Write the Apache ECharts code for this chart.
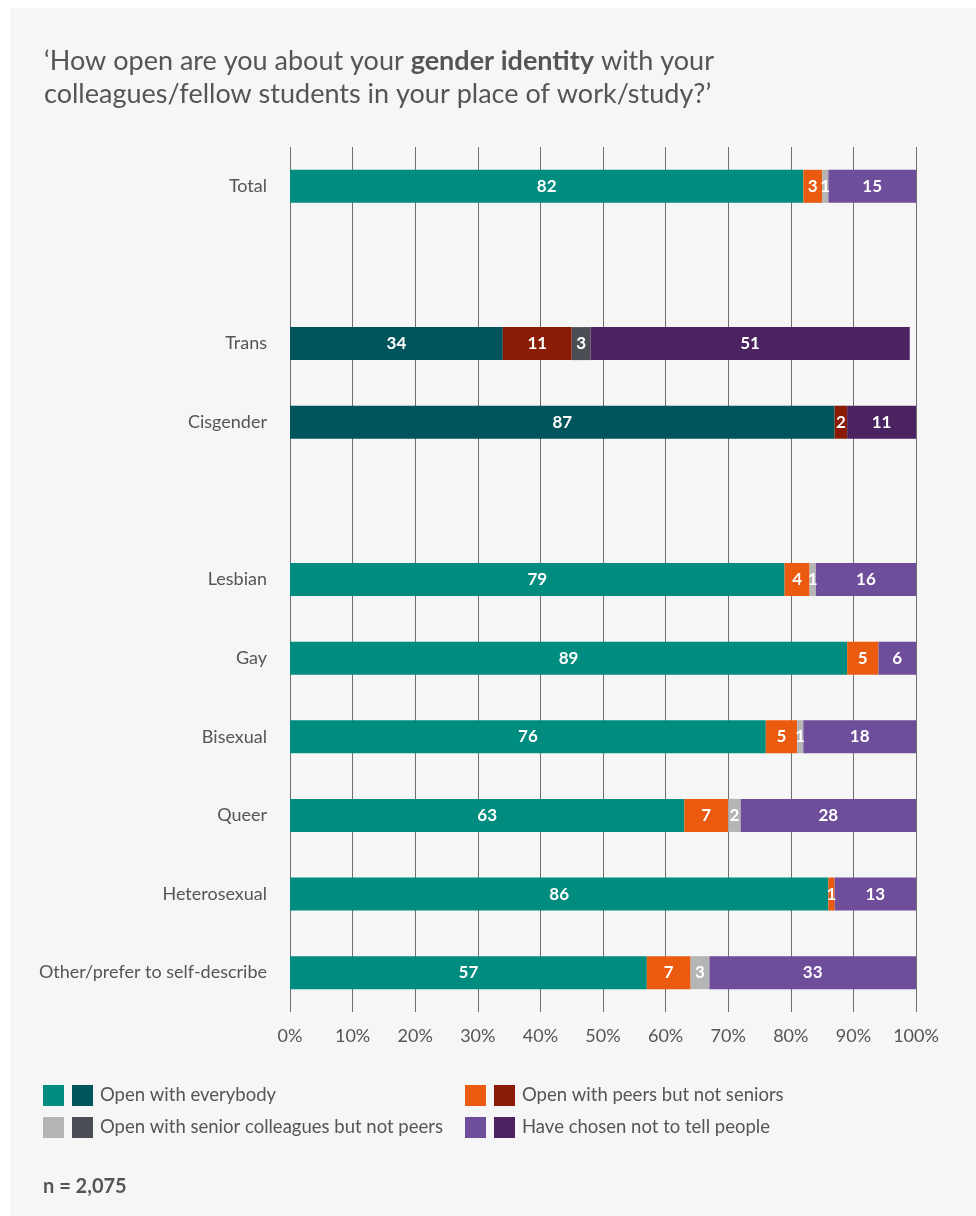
<!DOCTYPE html>
<html>
<head>
<meta charset="utf-8">
<script src="https://cdn.jsdelivr.net/npm/echarts@6/dist/echarts.min.js"></script>
<style>
  html, body { margin: 0; padding: 0; background: #ffffff; }
  #chart {
    width: 976px; height: 1216px;
    background: linear-gradient(#F6F6F6, #F6F6F6) no-repeat 10px 8px / 966px 1208px;
  }
</style>
</head>
<body>
<div id="chart"></div>
<script>
// Rows (blank strings are spacer rows between groups)
const categories = ['Total', ' ', 'Trans', 'Cisgender', '  ', 'Lesbian', 'Gay', 'Bisexual', 'Queer', 'Heterosexual', 'Other/prefer to self-describe'];
// Rows drawn in the darker palette
const darkRows = ['Trans', 'Cisgender'];

// Percentages per answer
const openEverybody = [82, null, 34, 87, null, 79, 89, 76, 63, 86, 57];
const peersNotSeniors = [3, null, 11, 2, null, 4, 5, 5, 7, 1, 7];
const seniorsNotPeers = [1, null, 3, null, null, 1, null, 1, 2, null, 3];
const notTell = [15, null, 51, 11, null, 16, 6, 18, 28, 13, 33];

const xTicks = [0, 10, 20, 30, 40, 50, 60, 70, 80, 90, 100];

const seriesDefs = [
  { name: 'Open with everybody', data: openEverybody, light: '#008C7F', dark: '#00545C' },
  { name: 'Open with peers but not seniors', data: peersNotSeniors, light: '#EA5A0F', dark: '#8A1B05' },
  { name: 'Open with senior colleagues but not peers', data: seniorsNotPeers, light: '#B4B5B4', dark: '#4B4E55' },
  { name: 'Have chosen not to tell people', data: notTell, light: '#6E4D9A', dark: '#4A2360' }
];

const FONT = 'Lato, "Open Sans", sans-serif';
const chart = echarts.init(document.getElementById('chart'), null, { renderer: 'canvas' });

const series = seriesDefs.map(s => ({
  name: s.name,
  type: 'bar',
  stack: 'total',
  barWidth: 33,
  clip: true,
  data: s.data,
  itemStyle: {
    color: p => (darkRows.includes(p.name) ? s.dark : s.light)
  },
  label: {
    show: true,
    position: 'inside',
    color: '#ffffff',
    fontFamily: FONT,
    fontWeight: 'bold',
    fontSize: 17,
    formatter: p => (p.value == null ? '' : String(p.value))
  },
  z: 3
}));

// Legend rows: two swatches (light / dark) followed by the label
const legendItems = [
  { x: 43, y: 1085, s: seriesDefs[0] },
  { x: 43, y: 1117, s: seriesDefs[2] },
  { x: 465, y: 1085, s: seriesDefs[1] },
  { x: 465, y: 1117, s: seriesDefs[3] }
];
const legendGraphics = [];
legendItems.forEach(it => {
  legendGraphics.push({ type: 'rect', left: it.x, top: it.y, shape: { width: 21, height: 21 }, style: { fill: it.s.light } });
  legendGraphics.push({ type: 'rect', left: it.x + 29, top: it.y, shape: { width: 21, height: 21 }, style: { fill: it.s.dark } });
  legendGraphics.push({
    type: 'text', left: it.x + 57, top: it.y + 1,
    style: { text: it.s.name, fill: '#555555', font: '18.5px ' + FONT }
  });
});
legendGraphics.push({
  type: 'text', left: 43, top: 1177,
  style: { text: 'n = 2,075', fill: '#555555', font: 'bold 20px ' + FONT }
});

chart.setOption({
  animation: false,
  title: {
    left: 39,
    top: 40,
    text: '‘How open are you about your {b|gender identity} with your\ncolleagues/fellow students in your place of work/study?’',
    textStyle: {
      color: '#555555',
      fontFamily: FONT,
      fontSize: 27,
      fontWeight: 'normal',
      lineHeight: 33,
      rich: {
        b: { fontWeight: 'bold', fontSize: 27, color: '#555555', fontFamily: FONT, lineHeight: 33 }
      }
    }
  },
  grid: { left: 290, right: 60, top: 147, bottom: 204, containLabel: false },
  xAxis: {
    type: 'value',
    min: xTicks[0],
    max: xTicks[xTicks.length - 1],
    interval: 10,
    axisLine: { show: false },
    axisTick: { show: false },
    splitLine: { show: true, lineStyle: { color: '#6E6E6E', width: 1 } },
    axisLabel: {
      color: '#555555', fontFamily: FONT, fontSize: 18, margin: 15,
      formatter: v => v + '%'
    }
  },
  yAxis: {
    type: 'category',
    inverse: true,
    data: categories,
    axisLine: { show: false },
    axisTick: { show: false },
    axisLabel: { color: '#555555', fontFamily: FONT, fontSize: 18, margin: 23 }
  },
  graphic: legendGraphics,
  series: series
});
</script>
</body>
</html>
